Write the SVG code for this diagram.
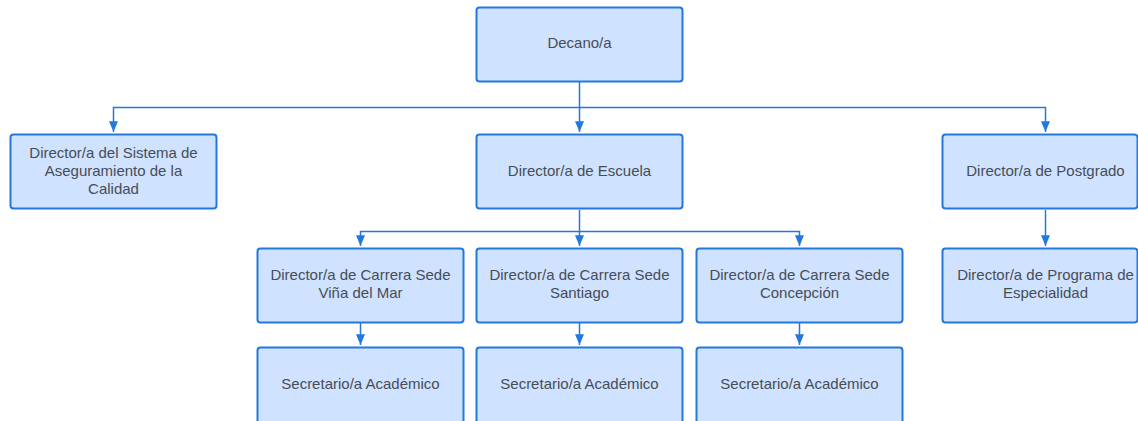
<svg xmlns="http://www.w3.org/2000/svg" width="1138" height="421" viewBox="0 0 1138 421">
<style>
.box{fill:#cfe2ff;stroke:#2378e0;stroke-width:2}
.t{font-family:"Liberation Sans",Arial,sans-serif;font-size:15px;fill:#474d55;text-anchor:middle}
.c{fill:none;stroke:#2378e0;stroke-width:1.5}
</style>
<defs>
<marker id="a" viewBox="0 0 12 10" refX="12" refY="5" markerWidth="12" markerHeight="9" markerUnits="userSpaceOnUse" orient="auto">
<path d="M0,0 L12,5 L0,10 Z" fill="#2378e0"/>
</marker>
</defs>
<rect width="1138" height="421" fill="#ffffff"/>
<g id="connectors">
<path class="c" d="M579.5,82 V132" marker-end="url(#a)"/>
<path class="c" d="M579.5,107.5 H113.5 V132" marker-end="url(#a)"/>
<path class="c" d="M579.5,107.5 H1045.5 V132" marker-end="url(#a)"/>
<path class="c" d="M579.5,210 V246" marker-end="url(#a)"/>
<path class="c" d="M579.5,231.5 H360.5 V246" marker-end="url(#a)"/>
<path class="c" d="M579.5,231.5 H799.5 V246" marker-end="url(#a)"/>
<path class="c" d="M1045.5,210 V246" marker-end="url(#a)"/>
<path class="c" d="M360.5,323 V345" marker-end="url(#a)"/>
<path class="c" d="M579.5,323 V345" marker-end="url(#a)"/>
<path class="c" d="M799.5,323 V345" marker-end="url(#a)"/>
</g>
<g id="decano"><rect class="box" x="476.5" y="7.5" width="206" height="74" rx="3"/><text class="t" x="579.5" y="48">Decano/a</text></g>
<g id="calidad"><rect class="box" x="10.5" y="134.5" width="206" height="74" rx="3"/><text class="t" x="113.5" y="158">Director/a del Sistema de</text><text class="t" x="113.5" y="176">Aseguramiento de la</text><text class="t" x="113.5" y="194">Calidad</text></g>
<g id="escuela"><rect class="box" x="476.5" y="134.5" width="206" height="74" rx="3"/><text class="t" x="579.5" y="176">Director/a de Escuela</text></g>
<g id="postgrado"><rect class="box" x="942.5" y="134.5" width="195" height="74" rx="3"/><text class="t" x="1045.5" y="176">Director/a de Postgrado</text></g>
<g id="vina"><rect class="box" x="257.5" y="248.5" width="206" height="74" rx="3"/><text class="t" x="360.5" y="280">Director/a de Carrera Sede</text><text class="t" x="360.5" y="298">Viña del Mar</text></g>
<g id="santiago"><rect class="box" x="476.5" y="248.5" width="206" height="74" rx="3"/><text class="t" x="579.5" y="280">Director/a de Carrera Sede</text><text class="t" x="579.5" y="298">Santiago</text></g>
<g id="concepcion"><rect class="box" x="696.5" y="248.5" width="206" height="74" rx="3"/><text class="t" x="799.5" y="280">Director/a de Carrera Sede</text><text class="t" x="799.5" y="298">Concepción</text></g>
<g id="programa"><rect class="box" x="942.5" y="248.5" width="195" height="74" rx="3"/><text class="t" x="1045.5" y="280">Director/a de Programa de</text><text class="t" x="1045.5" y="298">Especialidad</text></g>
<g id="sec1"><rect class="box" x="257.5" y="347.5" width="206" height="90" rx="3"/><text class="t" x="360.5" y="389">Secretario/a Académico</text></g>
<g id="sec2"><rect class="box" x="476.5" y="347.5" width="206" height="90" rx="3"/><text class="t" x="579.5" y="389">Secretario/a Académico</text></g>
<g id="sec3"><rect class="box" x="696.5" y="347.5" width="206" height="90" rx="3"/><text class="t" x="799.5" y="389">Secretario/a Académico</text></g>
</svg>
